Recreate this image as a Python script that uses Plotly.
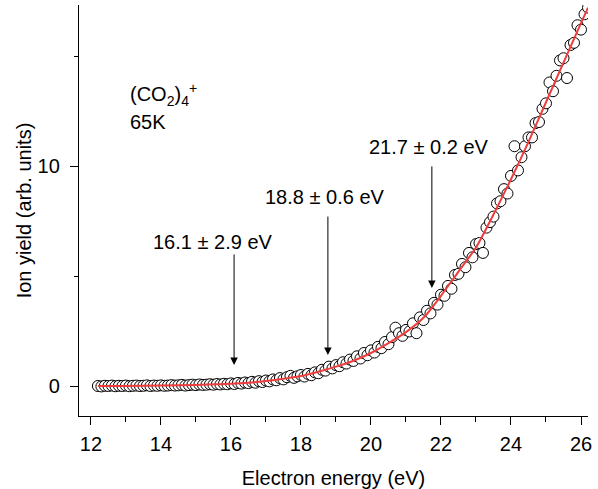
import plotly.graph_objects as go

# ---- data ----
energy = [12.2, 12.3, 12.4, 12.5, 12.6, 12.7, 12.8, 12.9, 13.0, 13.1, 13.2, 13.3, 13.4, 13.5,
          13.6, 13.7, 13.8, 13.9, 14.0, 14.1, 14.2, 14.3, 14.4, 14.5, 14.6, 14.7, 14.8, 14.9,
          15.0, 15.1, 15.2, 15.3, 15.4, 15.5, 15.6, 15.7, 15.8, 15.9, 16.0, 16.1, 16.2, 16.3,
          16.4, 16.5, 16.6, 16.7, 16.8, 16.9, 17.0, 17.1, 17.2, 17.3, 17.4, 17.5, 17.6, 17.7,
          17.8, 17.9, 18.0, 18.1, 18.2, 18.3, 18.4, 18.5, 18.6, 18.7, 18.8, 18.9, 19.0, 19.1,
          19.2, 19.3, 19.4, 19.5, 19.6, 19.7, 19.8, 19.9, 20.0, 20.1, 20.2, 20.3, 20.4, 20.5,
          20.6, 20.7, 20.8, 20.9, 21.0, 21.1, 21.2, 21.3, 21.4, 21.5, 21.6, 21.7, 21.8, 21.9,
          22.0, 22.1, 22.2, 22.3, 22.4, 22.5, 22.6, 22.7, 22.8, 22.9, 23.0, 23.1, 23.2, 23.3,
          23.4, 23.5, 23.6, 23.7, 23.8, 23.9, 24.0, 24.1, 24.2, 24.3, 24.4, 24.5, 24.6, 24.7,
          24.8, 24.9, 25.0, 25.1, 25.2, 25.3, 25.4, 25.5, 25.6, 25.7, 25.8, 25.9, 26.0, 26.1,
          26.2]
ion_yield = [0.00, -0.02, 0.01, 0.00, 0.02, -0.01, 0.01, 0.00, 0.02, -0.01, 0.01, 0.02, 0.00, 0.01,
             0.03, 0.00, 0.02, 0.01, 0.03, 0.01, 0.02, 0.04, 0.02, 0.03, 0.05, 0.02, 0.04, 0.06,
             0.04, 0.07, 0.05, 0.06, 0.08, 0.06, 0.09, 0.07, 0.10, 0.08, 0.12, 0.09, 0.14, 0.11,
             0.16, 0.13, 0.19, 0.15, 0.22, 0.18, 0.25, 0.21, 0.30, 0.26, 0.36, 0.30, 0.40, 0.46,
             0.37, 0.44, 0.50, 0.43, 0.55, 0.49, 0.62, 0.58, 0.74, 0.70, 0.88, 0.80, 0.95, 0.90,
             1.08, 1.02, 1.20, 1.14, 1.35, 1.25, 1.50, 1.40, 1.62, 1.52, 1.78, 1.72, 2.00, 1.90,
             2.22, 2.65, 2.40, 2.28, 2.55, 2.48, 2.85, 2.40, 3.12, 3.00, 3.42, 3.30, 3.78, 3.70,
             4.15, 4.10, 4.55, 4.42, 5.05, 5.10, 5.55, 5.40, 6.05, 5.85, 6.45, 6.50, 6.05, 7.20,
             7.45, 7.70, 8.30, 8.40, 8.95, 8.75, 9.55, 10.90, 9.80, 10.40, 10.90, 11.30, 11.30, 11.95,
             12.00, 12.60, 12.85, 13.80, 13.40, 14.10, 14.80, 14.90, 14.00, 15.50, 15.60, 16.40, 16.20, 16.90,
             17.20]

fit_energy = [12.2, 13.0, 14.0, 15.0, 16.0, 16.5, 17.0, 17.5, 18.0, 18.5, 19.0, 19.5, 20.0,
              20.5, 21.0, 21.5, 22.0, 22.5, 23.0, 23.5, 24.0, 24.5, 25.0, 25.5, 26.0, 26.2]
fit_yield = [0.0, 0.0, 0.02, 0.05, 0.10, 0.15, 0.23, 0.33, 0.45, 0.65, 0.88, 1.15, 1.50,
             1.95, 2.45, 3.10, 4.10, 5.20, 6.30, 7.80, 9.40, 11.10, 12.90, 14.70, 16.50, 17.20]

onset_labels = ["16.1 \u00b1 2.9 eV", "18.8 \u00b1 0.6 eV", "21.7 \u00b1 0.2 eV"]
onset_energy = [16.09, 18.77, 21.74]
arrow_tip = [0.95, 1.41, 4.45]
arrow_tail = [6.05, 7.77, 10.05]
label_x = [15.46, 18.66, 21.63]
label_y = [6.55, 8.59, 10.86]

FONT = "Arial, Liberation Sans, sans-serif"
FS = 20

fig = go.Figure()
fig.add_trace(go.Scatter(
    x=energy, y=ion_yield, mode="markers",
    marker=dict(symbol="circle", size=11, color="white",
                line=dict(color="black", width=1)),
    showlegend=False))
fig.add_trace(go.Scatter(
    x=fit_energy, y=fit_yield, mode="lines",
    line=dict(color="#f03c3c", width=2, shape="spline", smoothing=0.8),
    showlegend=False))

ann = []
for lab, xe, yt, ya, lx, ly in zip(onset_labels, onset_energy, arrow_tip, arrow_tail, label_x, label_y):
    ann.append(dict(x=xe, y=yt, ax=xe, ay=ya, xref="x", yref="y", axref="x", ayref="y",
                    text="", showarrow=True, arrowhead=2, arrowsize=1.5, arrowwidth=1,
                    arrowcolor="black"))
    ann.append(dict(x=lx, y=ly, xref="x", yref="y", text=lab, showarrow=False,
                    font=dict(family=FONT, size=FS, color="black")))

ann.append(dict(x=(128 - 79) / 509, y=1 - (94 - 5) / 411, xref="paper", yref="paper",
                xanchor="left", yanchor="middle",
                text="(CO<sub>2</sub>)<sub>4</sub><sup>+</sup>", showarrow=False,
                font=dict(family=FONT, size=FS, color="black")))
ann.append(dict(x=(128 - 79) / 509, y=1 - (122 - 5) / 411, xref="paper", yref="paper",
                xanchor="left", yanchor="middle",
                text="65K", showarrow=False,
                font=dict(family=FONT, size=FS, color="black")))

fig.update_layout(
    width=598, height=489,
    margin=dict(l=79, r=10, t=5, b=73, autoexpand=False),
    paper_bgcolor="white", plot_bgcolor="white",
    font=dict(family=FONT, size=FS, color="black"),
    annotations=ann,
    xaxis=dict(range=[11.66, 26.2], showgrid=False, zeroline=False,
               showline=True, linecolor="black", linewidth=1.3,
               ticks="outside", ticklen=8, tickwidth=1.2, tickcolor="black",
               dtick=2, tick0=12, ticklabelstandoff=2, automargin=False,
               minor=dict(dtick=1, ticks="outside", ticklen=5, tickcolor="black", tickwidth=1.2),
               title=dict(text="Electron energy (eV)", standoff=17,
                          font=dict(family=FONT, size=FS))),
    yaxis=dict(range=[-1.364, 17.32], showgrid=False, zeroline=False,
               showline=True, linecolor="black", linewidth=1.3,
               ticks="outside", ticklen=8, tickwidth=1.2, tickcolor="black",
               dtick=10, tick0=0, ticklabelstandoff=6, automargin=False,
               minor=dict(dtick=5, ticks="outside", ticklen=4, tickcolor="black", tickwidth=1.2),
               title=dict(text="Ion yield (arb. units)", standoff=0,
                          font=dict(family=FONT, size=FS))),
)

fig.write_html("out.html", config={"displayModeBar": False},
               post_script="document.body.style.margin='0';")
